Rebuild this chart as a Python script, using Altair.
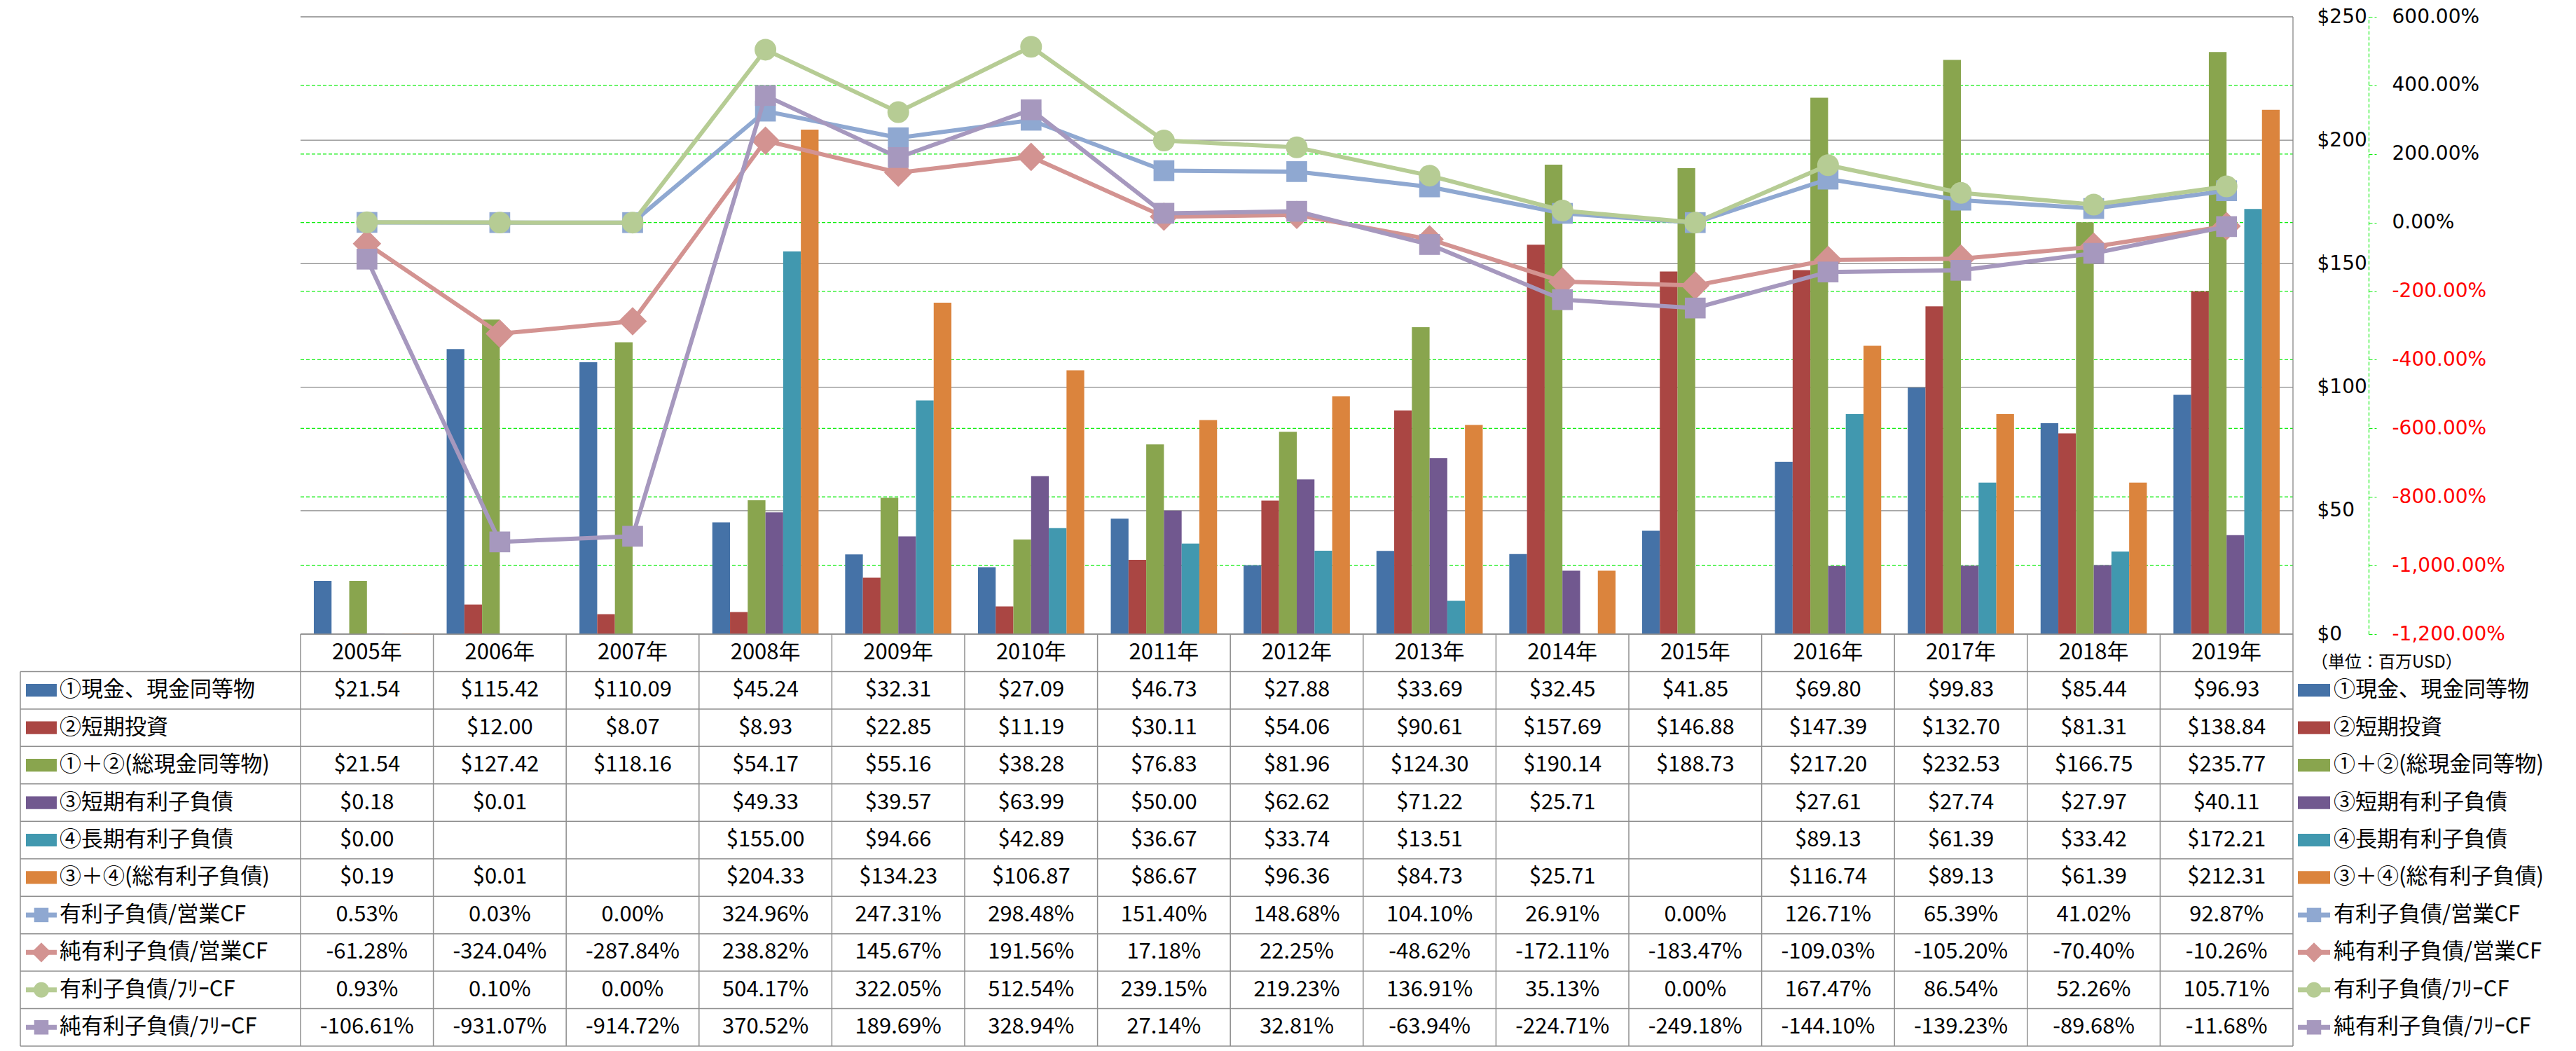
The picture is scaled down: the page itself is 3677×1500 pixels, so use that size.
import altair as alt
import pandas as pd

# ---------------- data ----------------
years = ["2005年", "2006年", "2007年", "2008年", "2009年", "2010年", "2011年", "2012年",
         "2013年", "2014年", "2015年", "2016年", "2017年", "2018年", "2019年"]

bar_names = ["①現金、現金同等物", "②短期投資", "①＋②(総現金同等物)",
             "③短期有利子負債", "④長期有利子負債", "③＋④(総有利子負債)"]
line_names = ["有利子負債/営業CF", "純有利子負債/営業CF", "有利子負債/ﾌﾘｰCF", "純有利子負債/ﾌﾘｰCF"]

cash = [21.54, 115.42, 110.09, 45.24, 32.31, 27.09, 46.73, 27.88, 33.69, 32.45, 41.85, 69.80, 99.83, 85.44, 96.93]
short_inv = [None, 12.00, 8.07, 8.93, 22.85, 11.19, 30.11, 54.06, 90.61, 157.69, 146.88, 147.39, 132.70, 81.31, 138.84]
total_cash = [21.54, 127.42, 118.16, 54.17, 55.16, 38.28, 76.83, 81.96, 124.30, 190.14, 188.73, 217.20, 232.53, 166.75, 235.77]
short_debt = [0.18, 0.01, None, 49.33, 39.57, 63.99, 50.00, 62.62, 71.22, 25.71, None, 27.61, 27.74, 27.97, 40.11]
long_debt = [0.00, None, None, 155.00, 94.66, 42.89, 36.67, 33.74, 13.51, None, None, 89.13, 61.39, 33.42, 172.21]
total_debt = [0.19, 0.01, None, 204.33, 134.23, 106.87, 86.67, 96.36, 84.73, 25.71, None, 116.74, 89.13, 61.39, 212.31]

debt_op = [0.53, 0.03, 0.00, 324.96, 247.31, 298.48, 151.40, 148.68, 104.10, 26.91, 0.00, 126.71, 65.39, 41.02, 92.87]
netdebt_op = [-61.28, -324.04, -287.84, 238.82, 145.67, 191.56, 17.18, 22.25, -48.62, -172.11, -183.47, -109.03, -105.20, -70.40, -10.26]
debt_fcf = [0.93, 0.10, 0.00, 504.17, 322.05, 512.54, 239.15, 219.23, 136.91, 35.13, 0.00, 167.47, 86.54, 52.26, 105.71]
netdebt_fcf = [-106.61, -931.07, -914.72, 370.52, 189.69, 328.94, 27.14, 32.81, -63.94, -224.71, -249.18, -144.10, -139.23, -89.68, -11.68]

bar_values = [cash, short_inv, total_cash, short_debt, long_debt, total_debt]
line_values = [debt_op, netdebt_op, debt_fcf, netdebt_fcf]

usd_ticks = [0, 50, 100, 150, 200, 250]
pct_ticks = [-1200, -1000, -800, -600, -400, -200, 0, 200, 400, 600]
unit_note = "（単位：百万USD）"

# ---------------- style ----------------
bar_colors = ["#4572A7", "#AA4643", "#89A54E", "#71588F", "#4198AF", "#DB843D"]
line_colors = ["#8FA8D1", "#D39391", "#B6CC94", "#A698BE"]
line_shapes = ["square", "diamond", "circle", "square"]
marker_sizes = [880, 1650, 960, 880]
legend_marker_sizes = [420, 800, 480, 420]
GREEN = "#11EE11"
GRID = "#878787"
TLINE = "#8F8F8F"
FONT_T = "Noto Sans CJK JP"
FONT_A = "DejaVu Sans"

N = len(years)
COL = 189.6
LEFT_W = 400.0
RIGHT_W = 396.0
L = LEFT_W / COL
R = RIGHT_W / COL
TOP_H = 881
ROWS = 11
TAB_H = 588
TOP_W = LEFT_W + N * COL
TAB_W = TOP_W + RIGHT_W
GROUP = 0.8
NB = len(bar_names)

all_names = bar_names + line_names
color_scale = alt.Scale(domain=all_names, range=bar_colors + line_colors)

xs_top = alt.Scale(domain=[-L, N], nice=False, zero=False)
ys_usd = alt.Scale(domain=[0, 250], nice=False, zero=False)
ys_pct = alt.Scale(domain=[-1200, 600], nice=False, zero=False)

# ---------------- top plot ----------------
grid_gray = alt.Chart(pd.DataFrame({"v": usd_ticks})).transform_calculate(
    xa="0", xb=str(N)
).mark_rule(color=GRID, strokeWidth=1.3).encode(
    x=alt.X("xa:Q", scale=xs_top, axis=None), x2="xb:Q",
    y=alt.Y("v:Q", scale=ys_usd, axis=None),
)

grid_green = alt.Chart(pd.DataFrame({"p": pct_ticks[1:-1]})).transform_calculate(
    xa="0", xb=str(N)
).mark_rule(color=GREEN, strokeWidth=1.2, strokeDash=[5, 3]).encode(
    x=alt.X("xa:Q", scale=xs_top, axis=None), x2="xb:Q",
    y=alt.Y("p:Q", scale=ys_pct, axis=None),
)

right_line = alt.Chart(pd.DataFrame({"a": [0], "b": [250]})).transform_calculate(
    xa=str(N)
).mark_rule(color=GRID, strokeWidth=1.3).encode(
    x=alt.X("xa:Q", scale=xs_top, axis=None),
    y=alt.Y("a:Q", scale=ys_usd, axis=None), y2="b:Q",
)

bar_rows = []
for k, (name, vals) in enumerate(zip(bar_names, bar_values)):
    for i, v in enumerate(vals):
        if v is not None:
            bar_rows.append({"i": i, "k": k, "series": name, "v": v})
bars_df = pd.DataFrame(bar_rows)

usd_axis = alt.Axis(
    orient="right", values=usd_ticks, labelExpr="'$' + datum.value",
    domain=False, ticks=False, grid=False, title=None,
    labelAlign="left", labelBaseline="middle", labelPadding=34,
    labelFont=FONT_A, labelFontSize=28, labelColor="#000000",
    labelFlush=False, labelOverlap=False,
)

bars = alt.Chart(bars_df).transform_calculate(
    bx0=f"datum.i + {(1 - GROUP) / 2} + datum.k * {GROUP / NB}",
    bx1=f"datum.i + {(1 - GROUP) / 2} + (datum.k + 1) * {GROUP / NB}",
).mark_bar().encode(
    x=alt.X("bx0:Q", scale=xs_top, axis=None), x2="bx1:Q",
    y=alt.Y("v:Q", scale=ys_usd, axis=usd_axis), y2=alt.datum(0),
    color=alt.Color("series:N", scale=color_scale, legend=None),
)

pct_axis = alt.Axis(
    orient="right", offset=108, values=pct_ticks,
    labelExpr="(datum.value < 0 ? '-' : '') + format(abs(datum.value), ',.2f') + '%'",
    domain=True, domainColor=GREEN, domainDash=[5, 3], domainWidth=1.2,
    ticks=True, tickColor=GREEN, tickDash=[5, 3], tickWidth=1.2, tickSize=11,
    grid=False, title=None,
    labelAlign="left", labelBaseline="middle", labelPadding=22,
    labelFont=FONT_A, labelFontSize=28,
    labelColor=alt.condition("datum.value < 0", alt.value("#FF0000"), alt.value("#000000")),
    labelFlush=False, labelOverlap=False,
)

series_layers = []
for j, (name, vals) in enumerate(zip(line_names, line_values)):
    df = pd.DataFrame({"i": list(range(N)), "p": vals, "series": name})
    base = alt.Chart(df).transform_calculate(cx="datum.i + 0.5")
    ln = base.mark_line(strokeWidth=6, color=line_colors[j]).encode(
        x=alt.X("cx:Q", scale=xs_top, axis=None),
        y=alt.Y("p:Q", scale=ys_pct, axis=pct_axis if j == 0 else None),
        order="i:Q",
    )
    pt = base.mark_point(filled=True, opacity=1, shape=line_shapes[j],
                         size=marker_sizes[j], color=line_colors[j]).encode(
        x=alt.X("cx:Q", scale=xs_top, axis=None),
        y=alt.Y("p:Q", scale=ys_pct, axis=None),
    )
    series_layers += [ln, pt]

top = alt.layer(grid_gray, grid_green, right_line, bars, *series_layers).resolve_scale(
    y="independent"
).properties(width=TOP_W, height=TOP_H)

# ---------------- table ----------------
xs_tab = alt.Scale(domain=[-L, N + R], nice=False, zero=False)
ys_tab = alt.Scale(domain=[0, ROWS], nice=False, zero=False, reverse=True)

h_df = pd.DataFrame({"r": list(range(ROWS + 1)),
                     "xa": [0.0] + [-L] * ROWS,
                     "xb": [float(N)] * (ROWS + 1)})
hlines = alt.Chart(h_df).mark_rule(color=TLINE, strokeWidth=1.5).encode(
    x=alt.X("xa:Q", scale=xs_tab, axis=None), x2="xb:Q",
    y=alt.Y("r:Q", scale=ys_tab, axis=None),
)
v_df = pd.DataFrame({"x": [-L] + [float(c) for c in range(N + 1)],
                     "ya": [1.0] + [0.0] * (N + 1),
                     "yb": [float(ROWS)] * (N + 2)})
vlines = alt.Chart(v_df).mark_rule(color=TLINE, strokeWidth=1.5).encode(
    x=alt.X("x:Q", scale=xs_tab, axis=None),
    y=alt.Y("ya:Q", scale=ys_tab, axis=None), y2="yb:Q",
)

cells = []
for i, y in enumerate(years):
    cells.append({"cx": i + 0.5, "cy": 0.5, "txt": y})
for r, vals in enumerate(bar_values, start=1):
    for i, v in enumerate(vals):
        if v is not None:
            cells.append({"cx": i + 0.5, "cy": r + 0.5, "txt": f"${v:,.2f}"})
for r, vals in enumerate(line_values, start=1 + NB):
    for i, v in enumerate(vals):
        cells.append({"cx": i + 0.5, "cy": r + 0.5, "txt": f"{v:.2f}%"})
cell_text = alt.Chart(pd.DataFrame(cells)).mark_text(
    font=FONT_T, fontSize=31, baseline="middle", align="center", color="#000000"
).encode(
    x=alt.X("cx:Q", scale=xs_tab, axis=None),
    y=alt.Y("cy:Q", scale=ys_tab, axis=None),
    text="txt:N",
)

# legend keys (left column + right legend)
key_rows = []
for base_x in (-L, float(N)):
    for r, name in enumerate(all_names, start=1):
        key_rows.append({
            "series": name, "cy": r + 0.5,
            "ya": r + 0.5 - 0.17, "yb": r + 0.5 + 0.17,
            "xa": base_x + (8 if base_x < 0 else 7) / COL,
            "xb": base_x + (52 if base_x < 0 else 53) / COL,
            "xm": base_x + 30 / COL,
            "xt": base_x + (56 if base_x < 0 else 58) / COL,
            "bar": name in bar_names,
        })
keys = pd.DataFrame(key_rows)

swatch = alt.Chart(keys[keys["bar"]]).mark_rect().encode(
    x=alt.X("xa:Q", scale=xs_tab, axis=None), x2="xb:Q",
    y=alt.Y("ya:Q", scale=ys_tab, axis=None), y2="yb:Q",
    color=alt.Color("series:N", scale=color_scale, legend=None),
)
icon_line = alt.Chart(keys[~keys["bar"]]).mark_rule(strokeWidth=7).encode(
    x=alt.X("xa:Q", scale=xs_tab, axis=None), x2="xb:Q",
    y=alt.Y("cy:Q", scale=ys_tab, axis=None),
    color=alt.Color("series:N", scale=color_scale, legend=None),
)
icon_pts = []
for j, name in enumerate(line_names):
    icon_pts.append(
        alt.Chart(keys[keys["series"] == name]).mark_point(
            filled=True, opacity=1, shape=line_shapes[j],
            size=legend_marker_sizes[j], color=line_colors[j]
        ).encode(
            x=alt.X("xm:Q", scale=xs_tab, axis=None),
            y=alt.Y("cy:Q", scale=ys_tab, axis=None),
        )
    )
key_text = alt.Chart(keys).mark_text(
    font=FONT_T, fontSize=31, baseline="middle", align="left", color="#000000"
).encode(
    x=alt.X("xt:Q", scale=xs_tab, axis=None),
    y=alt.Y("cy:Q", scale=ys_tab, axis=None),
    text="series:N",
)

note = alt.Chart(pd.DataFrame({"t": [unit_note], "x": [N + 26 / COL], "y": [0.77]})).mark_text(
    font=FONT_T, fontSize=24, baseline="middle", align="left", color="#000000"
).encode(
    x=alt.X("x:Q", scale=xs_tab, axis=None),
    y=alt.Y("y:Q", scale=ys_tab, axis=None),
    text="t:N",
)

table = alt.layer(hlines, vlines, cell_text, swatch, icon_line, *icon_pts, key_text, note).properties(
    width=TAB_W, height=TAB_H
)

chart = alt.vconcat(top, table, spacing=0, bounds="flush").properties(
    padding={"left": 20, "top": 2, "right": 0, "bottom": 0}
).configure_view(stroke=None)

chart.save("out.html", embed_options={"renderer": "svg", "actions": False})
